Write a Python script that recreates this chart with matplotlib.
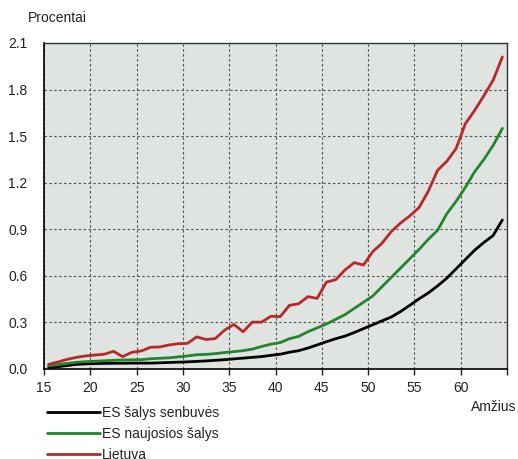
import matplotlib
matplotlib.use("Agg")
import matplotlib.pyplot as plt
import numpy as np

plt.rcParams['font.family'] = ['Liberation Sans', 'DejaVu Sans']

ages = list(range(15, 65))
es_senbuves = [0.01, 0.015, 0.022, 0.03, 0.033, 0.035, 0.036, 0.037, 0.037, 0.038,
               0.038, 0.038, 0.04, 0.042, 0.044, 0.046, 0.049, 0.052, 0.056, 0.06,
               0.065, 0.07, 0.075, 0.08, 0.088, 0.095, 0.108, 0.118, 0.135, 0.155,
               0.176, 0.195, 0.212, 0.235, 0.26, 0.285, 0.31, 0.335, 0.37, 0.41,
               0.452, 0.49, 0.535, 0.585, 0.645, 0.705, 0.765, 0.815, 0.86, 0.96]
es_naujosios = [0.02, 0.028, 0.036, 0.043, 0.047, 0.05, 0.053, 0.056, 0.058, 0.059,
                0.06, 0.066, 0.069, 0.072, 0.078, 0.084, 0.092, 0.094, 0.099, 0.106,
                0.112, 0.118, 0.128, 0.145, 0.16, 0.17, 0.195, 0.21, 0.24, 0.265,
                0.29, 0.32, 0.35, 0.39, 0.43, 0.47, 0.53, 0.59, 0.65, 0.71,
                0.77, 0.835, 0.893, 1.0, 1.08, 1.17, 1.27, 1.35, 1.44, 1.55]
lietuva = [0.03, 0.045, 0.062, 0.075, 0.084, 0.09, 0.095, 0.114, 0.08, 0.108,
           0.116, 0.14, 0.142, 0.155, 0.163, 0.165, 0.207, 0.19, 0.196, 0.25,
           0.287, 0.24, 0.302, 0.302, 0.34, 0.337, 0.41, 0.42, 0.466, 0.455,
           0.56, 0.575, 0.638, 0.685, 0.67, 0.756, 0.81, 0.885, 0.94, 0.986,
           1.04, 1.145, 1.28, 1.338, 1.42, 1.58, 1.665, 1.76, 1.86, 2.01]

series_names = ['ES šalys senbuvės', 'ES naujosios šalys', 'Lietuva']
series_colors = ['#000000', '#23842f', '#b5292b']
x_ticks = [15, 20, 25, 30, 35, 40, 45, 50, 55, 60]
y_ticks = [0.0, 0.3, 0.6, 0.9, 1.2, 1.5, 1.8, 2.1]

fig = plt.figure(figsize=(5.18, 4.59), dpi=100)
ax = fig.add_axes([44/518, 1-369/459, (507-44)/518, (369-43)/459])
ax.set_facecolor('#e0e4e0')

xpos = np.array(ages) + 0.5
for vals, name, col in zip([es_senbuves, es_naujosios, lietuva], series_names, series_colors):
    ax.plot(xpos, vals, color=col, lw=2.0, label=name, solid_capstyle='round')

ax.set_xlim(15, 65)
ax.set_ylim(0, 2.1)
ax.set_xticks(x_ticks + [65])
ax.set_xticklabels([str(t) for t in x_ticks] + [''])
ax.set_yticks(y_ticks)
ax.set_yticklabels([f'{t:.1f}' for t in y_ticks])
ax.grid(True, color='#505050', linestyle=(0, (2.2, 2.2)), linewidth=0.8)
ax.tick_params(axis='x', length=4, width=1, direction='out', labelsize=10, pad=5, colors='#222222')
ax.tick_params(axis='y', length=0, labelsize=10, pad=12, colors='#222222')
for s in ['left', 'bottom']:
    ax.spines[s].set_color('black')
    ax.spines[s].set_linewidth(1.2)
for s in ['top', 'right']:
    ax.spines[s].set_color('#333333')
    ax.spines[s].set_linewidth(1.0)

fig.text(28/518, 1-18/459, 'Procentai', fontsize=10, va='center', ha='left', color='#222222')
fig.text(516/518, 1-407/459, 'Amžius', fontsize=10, va='center', ha='right', color='#222222')

leg = fig.legend(loc='upper left', bbox_to_anchor=(47/518, 1-406/459), frameon=False,
                 fontsize=10, handlelength=3.8, handletextpad=0.15, labelspacing=0.5,
                 borderaxespad=0, borderpad=0)
for t in leg.get_texts():
    t.set_color('#222222')

fig.savefig('out.png', dpi=100)
